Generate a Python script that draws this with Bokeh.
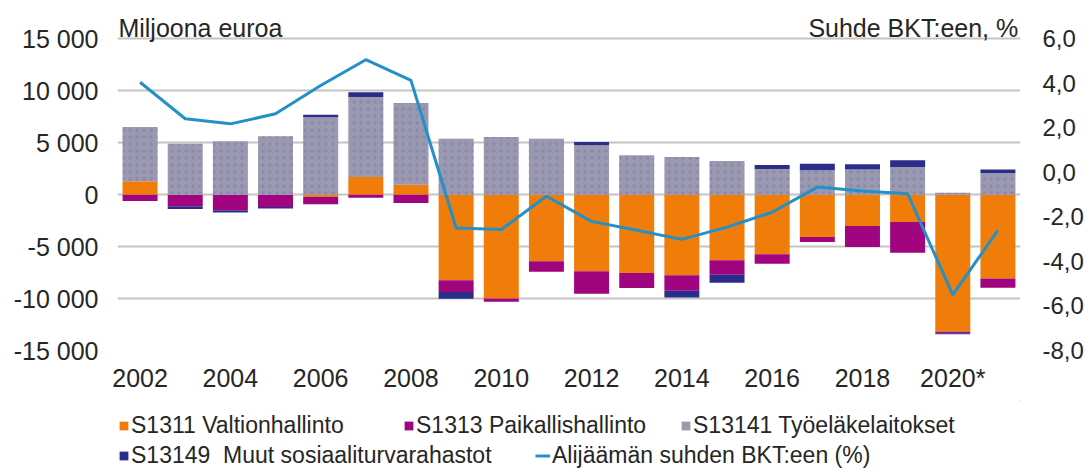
from bokeh.plotting import figure
from bokeh.layouts import column
from bokeh.models import (Range1d, LinearAxis, FixedTicker, ColumnDataSource, Label,
                          Legend, LegendItem, CustomJSTickFormatter)
from bokeh.embed import file_html
from bokeh.resources import INLINE

years = list(range(2002, 2022))
valtio = [1280, 0, 0, 0, -220, 1700, 960, -8250, -10000, -6400, -7380, -7540, -7760, -6320, -5740, -4070, -3020, -2630, -13200, -8080]
paikallis = [-600, -1120, -1500, -1200, -700, -300, -800, -1120, -320, -1030, -2150, -1440, -1500, -1380, -900, -480, -2020, -2950, -150, -870]
tyoelake = [5230, 4900, 5130, 5610, 7450, 7700, 7860, 5390, 5550, 5390, 4750, 3790, 3630, 3240, 2470, 2340, 2410, 2660, 190, 2090]
muut = [0, -250, -230, -130, 250, 450, 0, -640, 0, 0, 320, 0, -640, -770, 390, 640, 510, 640, -80, 320]
alijaama = [4.05, 2.41, 2.18, 2.63, 3.9, 5.06, 4.13, -2.5, -2.57, -1.07, -2.2, -2.6, -3.01, -2.46, -1.79, -0.66, -0.84, -0.96, -5.5, -2.6]

series_names = ["S1311 Valtionhallinto", "S1313 Paikallishallinto", "S13141 Työeläkelaitokset",
                "S13149  Muut sosiaaliturvarahastot"]
line_name = "Alijäämän suhden BKT:een (%)"
left_ticks = [-15000, -10000, -5000, 0, 5000, 10000, 15000]
right_ticks = [-8, -6, -4, -2, 0, 2, 4, 6]
x_ticks = [2002, 2004, 2006, 2008, 2010, 2012, 2014, 2016, 2018, 2020]
x_labels = {2020: "2020*"}

colors = ["#F07C0A", "#A1047F", "#9B99B0", "#2A2D8A"]
line_color = "#2390C8"
FONT = "Liberation Sans"
TXT = "#262626"

W = 1090
# frame extends above the top gridline to hold the two axis captions
TOP_EXTRA = 3686
PCT_EXTRA = TOP_EXTRA / 30000 * 14

p = figure(width=W, height=400, output_backend="svg", toolbar_location=None,
           x_range=Range1d(2001.5, 2021.5), y_range=Range1d(-15000, 15000 + TOP_EXTRA),
           min_border_left=117, min_border_right=W - 1020, min_border_top=0, min_border_bottom=50)
p.outline_line_color = None
p.background_fill_color = "white"
p.border_fill_color = "white"
p.xgrid.grid_line_color = None
p.ygrid.grid_line_color = "#C4C4C4"
p.ygrid.grid_line_width = 2
p.ygrid.ticker = FixedTicker(ticks=left_ticks)

p.extra_y_ranges = {"pct": Range1d(-8, 6 + PCT_EXTRA)}

# stacked bars: positives and negatives stacked separately
data = [valtio, paikallis, tyoelake, muut]
pos_base = [0.0] * len(years)
neg_base = [0.0] * len(years)
for k, (vals, col) in enumerate(zip(data, colors)):
    bottoms, tops = [], []
    for i, v in enumerate(vals):
        if v >= 0:
            bottoms.append(pos_base[i]); tops.append(pos_base[i] + v); pos_base[i] += v
        else:
            bottoms.append(neg_base[i]); tops.append(neg_base[i] + v); neg_base[i] += v
    src = ColumnDataSource(dict(x=years, bottom=bottoms, top=tops))
    extra = {}
    if k == 2:
        extra = dict(hatch_pattern="dot", hatch_color="#6E6CA8", hatch_alpha=0.35,
                     hatch_scale=7, hatch_weight=1)
    p.vbar(x="x", bottom="bottom", top="top", width=0.775, source=src,
           fill_color=col, line_color=None, **extra)

lsrc = ColumnDataSource(dict(x=years, y=alijaama))
p.line(x="x", y="y", source=lsrc, y_range_name="pct", line_color=line_color, line_width=3)

def style_axis(ax, size, standoff):
    ax.axis_line_color = None
    ax.major_tick_line_color = None
    ax.minor_tick_line_color = None
    ax.major_tick_out = 0
    ax.major_tick_in = 0
    ax.minor_tick_out = 0
    ax.minor_tick_in = 0
    ax.major_label_standoff = standoff
    ax.major_label_text_font = FONT
    ax.major_label_text_font_size = size
    ax.major_label_text_color = TXT

p.xaxis.ticker = FixedTicker(ticks=x_ticks)
p.xaxis.major_label_overrides = x_labels
style_axis(p.xaxis[0], "25px", 13)

p.yaxis.ticker = FixedTicker(ticks=left_ticks)
p.yaxis.formatter = CustomJSTickFormatter(code="""
    const s = Math.abs(tick).toString().replace(/\\B(?=(\\d{3})+(?!\\d))/g, ' ');
    return (tick < 0 ? '-' : '') + s;
""")
style_axis(p.yaxis[0], "25px", 19)

ra = LinearAxis(y_range_name="pct", ticker=FixedTicker(ticks=right_ticks),
                formatter=CustomJSTickFormatter(code="return tick.toFixed(1).replace('.', ',');"))
style_axis(ra, "24px", 22)
p.add_layout(ra, "right")

# axis captions (inside the extended frame, above the top gridline)
p.add_layout(Label(x=2001.52, y=16050, text="Miljoona euroa", text_font=FONT,
                   text_font_size="25px", text_color=TXT, text_baseline="alphabetic"))
p.add_layout(Label(x=2021.45, y=16050, text="Suhde BKT:een, %", text_font=FONT,
                   text_font_size="25px", text_color=TXT, text_baseline="alphabetic",
                   text_align="right"))

# legend strip as a second figure under the chart (its frame aligns with the chart frame)
q = figure(width=W, height=70, output_backend="svg", toolbar_location=None,
           x_range=Range1d(0, 1), y_range=Range1d(0, 1), x_axis_type=None, y_axis_type=None,
           min_border_left=0, min_border_right=0, min_border_top=0, min_border_bottom=0)
q.outline_line_color = None
q.xgrid.grid_line_color = None
q.ygrid.grid_line_color = None
# proxy glyphs kept outside the visible range, used only for legend swatches
leg_rends = [q.vbar(x=[5], top=[5], bottom=[4], width=0.5, fill_color=c, line_color=None)
             for c in colors]
leg_line = q.line(x=[5, 6], y=[5, 5], line_color=line_color, line_width=3)

leg_specs = [
    (series_names[0], leg_rends[0], 1, 31, 11),
    (series_names[1], leg_rends[1], 286, 31, 11),
    (series_names[2], leg_rends[2], 563, 31, 11),
    (series_names[3], leg_rends[3], 1, 1, 11),
    (line_name, leg_line, 418, 1, 15),
]
for name, rend, lx, ly, gw in leg_specs:
    lg = Legend(items=[LegendItem(label=name, renderers=[rend])], location=(lx, ly),
                orientation="horizontal", glyph_width=gw, glyph_height=11,
                label_standoff=2, padding=0, margin=0, spacing=0,
                border_line_color=None, background_fill_alpha=0,
                label_text_font=FONT, label_text_font_size="23px",
                label_text_color=TXT, label_height=26)
    q.add_layout(lg, "center")

layout = column(p, q, spacing=0)
open("out.html", "w").write(file_html(layout, INLINE))
